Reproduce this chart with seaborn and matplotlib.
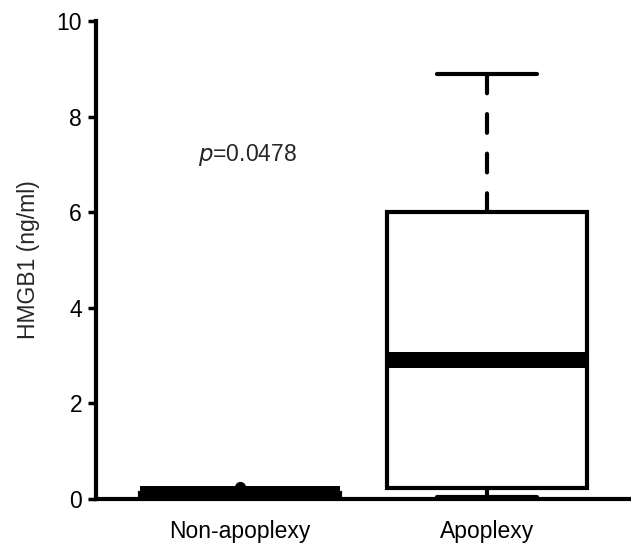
import numpy as np
import pandas as pd
import matplotlib
matplotlib.use("Agg")
import matplotlib.pyplot as plt
import seaborn as sns

# Valeurs (ng/ml)
groups = ["Non-apoplexy", "Apoplexy"]
non_apoplexy = [0.01, 0.06, 0.06, 0.09, 0.10, 0.12, 0.13, 0.13, 0.25]
apoplexy = [0.05, 0.23, 0.23, 2.9, 6.0, 6.0, 8.9]
p_label = "=0.0478"
y_ticks = [0, 2, 4, 6, 8, 10]

df = pd.DataFrame({
    "group": [groups[0]] * len(non_apoplexy) + [groups[1]] * len(apoplexy),
    "hmgb1": non_apoplexy + apoplexy,
})

sns.set_style("ticks")
plt.rcParams["font.family"] = ["Liberation Sans", "DejaVu Sans"]
fs = 16.5

fig = plt.figure(figsize=(6.31, 5.44), dpi=100)
ax = fig.add_axes([0.152, 0.0827, 0.848, 0.8787])

sns.boxplot(
    data=df, x="group", y="hmgb1", order=groups,
    color="white", linecolor="black", linewidth=3,
    width=0.81, whis=1.5, ax=ax,
    medianprops={"linewidth": 11.5, "solid_capstyle": "butt"},
    whiskerprops={"linestyle": (0, (4.5, 5.0)), "dash_capstyle": "round"},
    capprops={"linewidth": 3},
    flierprops={"marker": "o", "markersize": 7, "markerfacecolor": "black",
                "markeredgecolor": "black"},
)

ax.text(0.03, 7.2, r"$p$" + p_label, ha="center", va="center", fontsize=fs)

ax.set_xlim(-0.583, 1.583)
ax.set_ylim(0, 10)
ax.set_yticks(y_ticks)
ax.set_xlabel("")
ax.set_ylabel("HMGB1 (ng/ml)", fontsize=fs, labelpad=12)

sns.despine(ax=ax)
for side in ["left", "bottom"]:
    ax.spines[side].set_linewidth(3)
    ax.spines[side].set_color("black")
ax.spines["left"].set_capstyle("projecting")

ax.tick_params(axis="y", length=6, width=2.5, pad=4, labelsize=fs, colors="black")
ax.tick_params(axis="x", length=0, pad=15, labelsize=fs, colors="black")

fig.savefig("out.png", dpi=100)
